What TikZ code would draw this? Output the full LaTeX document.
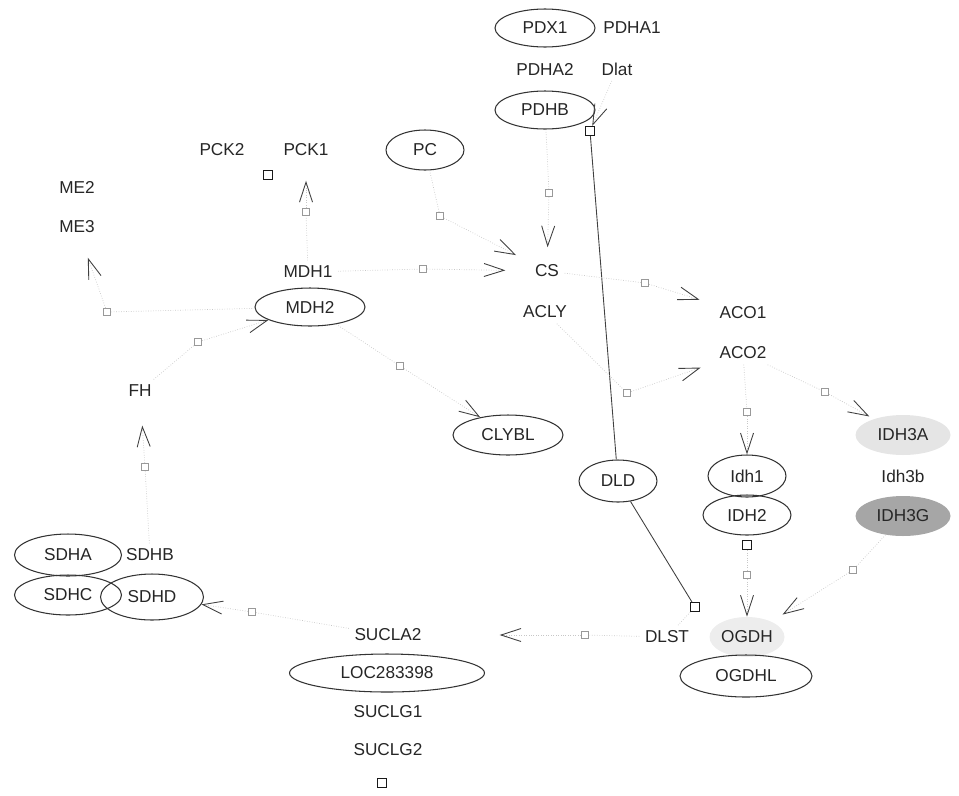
\documentclass[tikz,border=0pt]{standalone}
\usepackage{fontspec}
\setsansfont{Liberation Sans}
\usetikzlibrary{positioning,arrows.meta,shapes.geometric}

\begin{document}
\begin{tikzpicture}[
    x=0.02cm, y=-0.02cm,
    font=\sffamily\fontsize{9.8}{11}\selectfont,
    gene/.style={inner sep=3pt, text=black!85},
    enz/.style={gene, ellipse, draw=black!80, line width=0.6pt,
        minimum width=2cm, minimum height=0.76cm, inner sep=0pt},
    shade/.style={gene, ellipse, minimum width=1.9cm, minimum height=0.8cm, inner sep=0pt},
    rxn/.style={draw=black!40, line width=0.4pt, minimum size=1.5mm, inner sep=0pt},
    rxnk/.style={rxn, draw=black!90, line width=0.7pt, minimum size=1.8mm},
    faint/.style={draw=black!22, line width=0.4pt, densely dotted},
    link/.style={draw=black!75, line width=0.5pt},
    tip/.style={-{Straight Barb[length=4mm,width=2.6mm,color=black!75,line width=0.5pt]}},
]
\useasboundingbox (0,0) rectangle (959,795);

% ---- pyruvate dehydrogenase ----
\node[enz] (pdx1) at (545,28) {PDX1};
\node[gene] (pdha1) at (632,28) {PDHA1};
\node[gene] (pdha2) at (545,69) {PDHA2};
\node[gene] (dlat) at (617,69) {Dlat};
\node[enz] (pdhb) at (545,110) {PDHB};

% ---- malate / oxaloacetate side ----
\node[gene] (pck2) at (222,150) {PCK2};
\node[gene] (pck1) at (306,150) {PCK1};
\node[enz, minimum width=1.56cm, minimum height=0.8cm] (pc) at (425,150) {PC};
\node[gene] (me2) at (77,187) {ME2};
\node[gene] (me3) at (77,227) {ME3};
\node[gene] (mdh1) at (308,272) {MDH1};
\node[enz, minimum width=2.2cm] (mdh2) at (310,307) {MDH2};
\node[gene] (fh) at (140,391) {FH};

% ---- citrate / aconitase ----
\node[gene] (cs) at (547,271) {CS};
\node[gene] (acly) at (545,312) {ACLY};
\node[gene] (aco1) at (743,313) {ACO1};
\node[gene] (aco2) at (743,353) {ACO2};
\node[enz, minimum width=2.2cm, minimum height=0.8cm] (clybl) at (508,435) {CLYBL};

% ---- isocitrate dehydrogenase ----
\node[enz, minimum width=1.56cm, minimum height=0.84cm] (dld) at (618,481) {DLD};
\node[enz, minimum width=1.56cm, minimum height=0.84cm] (idh1) at (747,476) {Idh1};
\node[enz, minimum width=1.76cm, minimum height=0.8cm] (idh2) at (747,515) {IDH2};
\node[shade, fill=black!10] (idh3a) at (903,435) {IDH3A};
\node[gene] (idh3b) at (903,476) {Idh3b};
\node[shade, fill=black!35] (idh3g) at (903,516) {IDH3G};

% ---- succinate dehydrogenase ----
\node[enz, minimum width=2.14cm, minimum height=0.84cm] (sdha) at (68,555) {SDHA};
\node[gene] (sdhb) at (150,555) {SDHB};
\node[enz, minimum width=2.06cm, minimum height=0.92cm] (sdhd) at (152,597) {\hspace*{1.4em}};
\node[enz, minimum width=2.14cm, minimum height=0.8cm] (sdhc) at (68,595) {SDHC};
\node[gene] at (sdhd) {SDHD};

% ---- succinyl-CoA / oxoglutarate ----
\node[gene] (sucla2) at (388,635) {SUCLA2};
\node[enz, minimum width=3.9cm] (loc) at (387,673) {LOC283398};
\node[gene] (suclg1) at (388,712) {SUCLG1};
\node[gene] (suclg2) at (388,750) {SUCLG2};
\node[gene] (dlst) at (667,637) {DLST};
\node[shade, fill=black!7, minimum width=1.5cm] (ogdh) at (747,637) {OGDH};
\node[enz, minimum width=2.64cm, minimum height=0.84cm] (ogdhl) at (746,676) {OGDHL};

% ---- reaction squares ----
\node[rxnk] (r1) at (590,131) {};
\node[rxnk] (r2) at (268,175) {};
\node[rxn] (r3) at (306,212) {};
\node[rxn] (r4) at (440,216) {};
\node[rxn] (r5) at (423,269) {};
\node[rxn] (r6) at (549,193) {};
\node[rxn] (r7) at (645,283) {};
\node[rxn] (r8) at (627,393) {};
\node[rxn] (r9) at (747,412) {};
\node[rxn] (r10) at (825,392) {};
\node[rxnk] (r11) at (747,545) {};
\node[rxn] (r12) at (747,575) {};
\node[rxn] (r13) at (853,570) {};
\node[rxnk] (r14) at (695,607) {};
\node[rxn] (r15) at (585,635) {};
\node[rxnk] (r16) at (382,783) {};
\node[rxn] (r17) at (252,612) {};
\node[rxn] (r18) at (145,467) {};
\node[rxn] (r19) at (198,342) {};
\node[rxn] (r20) at (107,312) {};
\node[rxn] (r21) at (400,366) {};

% ---- edges ----
\draw[faint, tip] (dlat) -- (r1);
\draw[link] (r1) -- (dld);
\draw[link] (dld) -- (r14);
\draw[faint] (r14) -- (dlst);

\draw[faint] (mdh1) -- (r3);
\draw[faint, tip, shorten >=0.38cm] (r3) -- (pck1);
\draw[faint] (pc) -- (r4);
\draw[faint, tip, shorten >=0.3cm] (r4) -- (cs);
\draw[faint] (mdh1) -- (r5);
\draw[faint, tip, shorten >=0.48cm] (r5) -- (cs);
\draw[faint] (pdhb) -- (r6);
\draw[faint, tip, shorten >=0.24cm] (r6) -- (cs);

\draw[faint] (cs) -- (r7);
\draw[faint, tip, shorten >=0.3cm] (r7) -- (aco1);
\draw[faint] (acly) -- (r8);
\draw[faint, tip, shorten >=0.28cm] (r8) -- (aco2);
\draw[faint] (aco2) -- (r9);
\draw[faint, tip] (r9) -- (idh1);
\draw[faint] (aco2) -- (r10);
\draw[faint, tip, shorten >=0.1cm] (r10) -- (idh3a);

\draw[faint] (r11) -- (r12);
\draw[faint, tip] (r12) -- (ogdh);
\draw[faint] (idh3g) -- (r13);
\draw[faint, tip, shorten >=0.26cm] (r13) -- (ogdh);

\draw[faint] (dlst) -- (r15);
\draw[faint, tip, shorten >=1.45cm] (r15) -- (sucla2);
\draw[faint] (sucla2) -- (r17);
\draw[faint, tip] (r17) -- (sdhd);
\draw[faint] (sdhb) -- (r18);
\draw[faint, tip, shorten >=0.46cm] (r18) -- (fh);
\draw[faint] (fh) -- (r19);
\draw[faint, tip] (r19) -- (mdh2);
\draw[faint] (mdh2) -- (r20);
\draw[faint, tip, shorten >=0.4cm] (r20) -- (me3);
\draw[faint] (mdh2) -- (r21);
\draw[faint, tip] (r21) -- (clybl);

\end{tikzpicture}
\end{document}
